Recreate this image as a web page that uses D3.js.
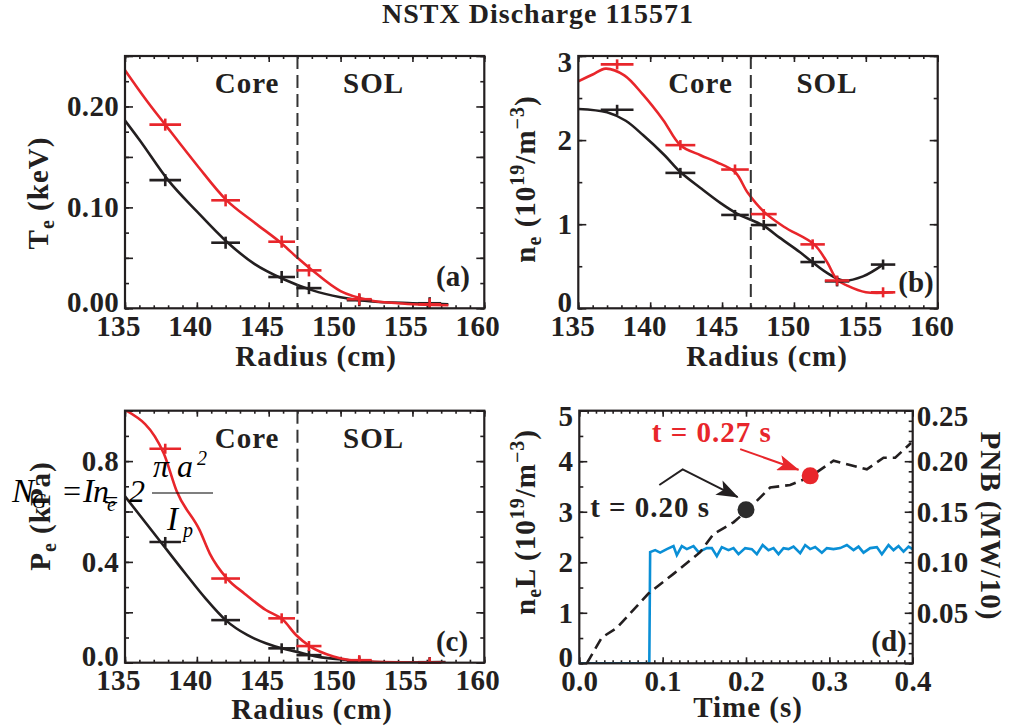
<!DOCTYPE html>
<html>
<head>
<meta charset="utf-8">
<script src="https://cdn.jsdelivr.net/npm/d3@7"></script>
<style>
  body { margin: 0; background: #fff; }
  svg text { font-family: "Liberation Serif", "Times New Roman", serif; font-weight: bold; fill: #231f20; }
  svg text.formula { font-weight: normal; font-style: italic; }
</style>
</head>
<body>
<div id="svganchor"></div>
<script>
// ---- panel (a): Te ----
let radiusPts = [137.8, 142.0, 145.9, 147.8, 151.3, 156.2];
let radiusErr = [1.1, 1.0, 0.93, 0.87, 0.87, 0.8];
let teRed = [0.182, 0.107, 0.066, 0.0376, 0.009, 0.004];
let teBlack = [0.127, 0.065, 0.031, 0.020, 0.008, 0.005];
let teRedFitR = [135, 136.5, 137.8, 140, 142, 144, 146, 147, 148, 150, 152, 154, 157.5];
let teRedFit = [0.236, 0.206, 0.182, 0.142, 0.108, 0.085, 0.063, 0.050, 0.038, 0.017, 0.008, 0.005, 0.003];
let teBlackFitR = [135, 136, 138, 140, 142, 144, 146, 148, 150, 152, 155, 157.5];
let teBlackFit = [0.186, 0.167, 0.127, 0.096, 0.067, 0.044, 0.029, 0.018, 0.011, 0.007, 0.005, 0.004];
let teYerr = 0.006;

// ---- panel (b): ne ----
let neRadius = [137.7, 142.1, 145.9, 147.9, 151.3, 153.0, 156.2];
let neRadiusErr = [1.14, 1.04, 0.96, 0.9, 0.85, 0.85, 0.85];
let neRed = [2.90, 1.94, 1.65, 1.12, 0.76, 0.33, 0.19];
let neBlack = [2.36, 1.61, 1.11, 0.99, 0.55, 0.32, 0.52];
let neRedLineR = [135, 136, 136.9, 138.2, 139.5, 140.9, 142.1, 143.5, 144.6, 145.9, 146.8, 147.9, 149.3, 151.4, 152.3, 153.0, 153.7, 155.0, 156.9];
let neRedLine = [2.70, 2.78, 2.85, 2.77, 2.54, 2.24, 1.94, 1.82, 1.74, 1.62, 1.37, 1.15, 0.97, 0.76, 0.55, 0.34, 0.27, 0.19, 0.19];
let neBlackLineR = [135, 137.0, 138.3, 139.5, 141, 142.1, 143.5, 144.9, 146.0, 147.9, 149, 150.4, 151.2, 152.3, 153.4, 154.8, 156.2];
let neBlackLine = [2.37, 2.33, 2.23, 2.06, 1.82, 1.62, 1.43, 1.25, 1.13, 0.98, 0.84, 0.67, 0.56, 0.42, 0.33, 0.38, 0.52];
let neYerr = 0.06;

// ---- panel (c): Pe ----
let peRed = [0.849, 0.334, 0.176, 0.066, 0.010, 0.001];
let peBlack = [0.479, 0.169, 0.057, 0.030, 0.005, 0.002];
let peRedFitR = [135.1, 137.7, 138.6, 140.2, 140.9, 142.1, 143.3, 144.8, 146.0, 146.9, 147.9, 149.5, 151.8, 157.3];
let peRedFit = [1.0, 0.83, 0.68, 0.525, 0.433, 0.334, 0.275, 0.209, 0.17, 0.11, 0.064, 0.025, 0.005, 0.0];
let peBlackFitR = [135, 137.2, 139.2, 140.6, 142.0, 143.5, 144.8, 145.9, 146.9, 148.3, 150.6, 154.1, 157.3];
let peBlackFit = [0.66, 0.50, 0.354, 0.255, 0.169, 0.11, 0.077, 0.057, 0.044, 0.025, 0.010, 0.001, 0.003];
let peYerr = 0.02;

// ---- panel (d): line density and beam power vs time ----
let nlTime = [0.009, 0.027, 0.045, 0.083, 0.113, 0.145, 0.161, 0.185, 0.201, 0.229, 0.253, 0.277, 0.305, 0.345, 0.365, 0.379, 0.398];
let nlValue = [0.0, 0.51, 0.70, 1.38, 1.77, 2.20, 2.56, 2.79, 3.02, 3.48, 3.53, 3.69, 4.01, 3.84, 4.07, 4.07, 4.36];
let pnbTime = [0, 0.084, 0.085, 0.091, 0.097, 0.105, 0.113, 0.117, 0.123, 0.129, 0.137, 0.143, 0.153, 0.159, 0.165, 0.171, 0.179, 0.185, 0.191, 0.199, 0.207, 0.213, 0.220, 0.227, 0.233, 0.239, 0.245, 0.251, 0.257, 0.265, 0.271, 0.277, 0.283, 0.291, 0.297, 0.305, 0.313, 0.321, 0.329, 0.335, 0.341, 0.349, 0.357, 0.363, 0.371, 0.377, 0.383, 0.389, 0.395, 0.400];
let pnbValue = [0, 0, 0.110, 0.112, 0.1095, 0.113, 0.116, 0.107, 0.116, 0.113, 0.116, 0.110, 0.114, 0.114, 0.106, 0.115, 0.112, 0.114, 0.108, 0.114, 0.113, 0.108, 0.117, 0.112, 0.114, 0.108, 0.114, 0.113, 0.1155, 0.109, 0.117, 0.113, 0.115, 0.1095, 0.114, 0.113, 0.114, 0.117, 0.112, 0.1155, 0.1095, 0.114, 0.115, 0.108, 0.117, 0.112, 0.116, 0.1105, 0.1155, 0.113];
let markTimes = [0.20, 0.277];
let markValues = [3.04, 3.71];
let markLabels = ["t = 0.20 s", "t = 0.27 s"];

let coreEdge = 147;

let RED = "#e8262b", BLACK = "#231f20", BLUE = "#0a8fd6";

let width = 1022, height = 728;
let svg = d3.select("#svganchor").append("svg").attr("width", width).attr("height", height);

let defs = svg.append("defs");
function arrowHead(id, color) {
  defs.append("marker")
    .attr("id", id)
    .attr("viewBox", "0 0 22 16")
    .attr("refX", 21).attr("refY", 8)
    .attr("markerWidth", 22).attr("markerHeight", 16)
    .attr("markerUnits", "userSpaceOnUse")
    .attr("orient", "auto")
    .append("path")
    .attr("d", "M0,0 L22,8 L0,16 L5,8 Z")
    .attr("fill", color);
}
arrowHead("arrBlack", BLACK);
arrowHead("arrRed", RED);

svg.append("text")
  .attr("x", 538).attr("y", 23)
  .attr("text-anchor", "middle")
  .style("font-size", "28px")
  .style("letter-spacing", "1px")
  .text("NSTX Discharge 115571");

// builds one framed panel with inward ticks on all four sides
function makePanel(o) {
  let g = svg.append("g");
  let x = d3.scaleLinear().domain(o.xDom).range([o.left, o.right]);
  let y = d3.scaleLinear().domain(o.yDom).range([o.bottom, o.top]);
  let yR = o.yRDom ? d3.scaleLinear().domain(o.yRDom).range([o.bottom, o.top]) : null;

  let clipId = "clip" + o.name;
  defs.append("clipPath").attr("id", clipId)
    .append("rect")
    .attr("x", o.left).attr("y", o.top)
    .attr("width", o.right - o.left).attr("height", o.bottom - o.top);

  function ticks(axis, transform, vals, len) {
    let a = g.append("g")
      .attr("transform", transform)
      .call(axis.tickValues(vals).tickSize(-len).tickFormat(""));
    a.select(".domain").remove();
    a.selectAll("line").attr("stroke", BLACK).attr("stroke-width", 1.6);
  }

  // x ticks bottom + top
  ticks(d3.axisBottom(x), "translate(0," + o.bottom + ")", o.xMinor, 3);
  ticks(d3.axisBottom(x), "translate(0," + o.bottom + ")", o.xMajor, 6);
  ticks(d3.axisTop(x), "translate(0," + o.top + ")", o.xMinor, 3);
  ticks(d3.axisTop(x), "translate(0," + o.top + ")", o.xMajor, 6);
  // y ticks left / right
  ticks(d3.axisLeft(y), "translate(" + o.left + ",0)", o.yMinor, 4);
  ticks(d3.axisLeft(y), "translate(" + o.left + ",0)", o.yMajor, 8);
  if (yR) {
    ticks(d3.axisRight(yR), "translate(" + o.right + ",0)", o.yRMinor, 4);
    ticks(d3.axisRight(yR), "translate(" + o.right + ",0)", o.yRMajor, 8);
  } else {
    ticks(d3.axisRight(y), "translate(" + o.right + ",0)", o.yMinor, 4);
    ticks(d3.axisRight(y), "translate(" + o.right + ",0)", o.yMajor, 8);
  }

  // tick labels (end labels nudged inward the way the original plot does)
  function nudge(sel, dom) {
    sel.selectAll(".tick text")
      .attr("y", function (d) {
        if (Math.abs(d - dom[0]) < 1e-9) return -6;
        if (Math.abs(d - dom[1]) < 1e-9) return 6;
        return 0;
      });
  }
  let xl = g.append("g")
    .attr("transform", "translate(0," + o.bottom + ")")
    .call(d3.axisBottom(x).tickValues(o.xLabels).tickSize(0).tickPadding(7).tickFormat(o.xFmt));
  xl.select(".domain").remove();
  xl.selectAll(".tick text").attr("x", o.xShift || 0);
  let yl = g.append("g")
    .attr("transform", "translate(" + o.left + ",0)")
    .call(d3.axisLeft(y).tickValues(o.yLabels).tickSize(0).tickPadding(6).tickFormat(o.yFmt));
  yl.select(".domain").remove();
  nudge(yl, o.yDom);
  if (yR) {
    let yrl = g.append("g")
      .attr("transform", "translate(" + o.right + ",0)")
      .call(d3.axisRight(yR).tickValues(o.yRLabels).tickSize(0).tickPadding(4).tickFormat(o.yRFmt));
    yrl.select(".domain").remove();
    nudge(yrl, o.yRDom);
  }
  g.selectAll(".tick text")
    .attr("fill", BLACK)
    .style("font-size", "29px")
    .style("letter-spacing", "0.3px");

  let plot = g.append("g").attr("clip-path", "url(#" + clipId + ")");

  return { g: g, plot: plot, x: x, y: y, yR: yR, o: o };
}

function frame(p) {
  p.g.append("rect")
    .attr("x", p.o.left).attr("y", p.o.top)
    .attr("width", p.o.right - p.o.left).attr("height", p.o.bottom - p.o.top)
    .attr("fill", "none").attr("stroke", BLACK).attr("stroke-width", 2.2);
}

function curve(p, xs, ys, color, yScale, dash, curveType) {
  let ys2 = yScale || p.y;
  let line = d3.line()
    .x(function (d) { return p.x(d[0]); })
    .y(function (d) { return ys2(d[1]); })
    .curve(curveType || d3.curveMonotoneX);
  p.plot.append("path")
    .datum(d3.zip(xs, ys))
    .attr("d", line)
    .attr("fill", "none")
    .attr("stroke", color)
    .attr("stroke-width", 2.6)
    .attr("stroke-dasharray", dash || null);
}

function errBars(p, xs, xerr, ys, yerr, color) {
  let pts = d3.zip(xs, xerr, ys);
  let g = p.g.append("g").attr("stroke", color).attr("stroke-width", 2.6);
  g.selectAll(".hbar").data(pts).enter().append("line")
    .attr("x1", function (d) { return p.x(d[0] - d[1]); })
    .attr("x2", function (d) { return p.x(d[0] + d[1]); })
    .attr("y1", function (d) { return p.y(d[2]); })
    .attr("y2", function (d) { return p.y(d[2]); });
  g.selectAll(".vbar").data(pts).enter().append("line")
    .attr("x1", function (d) { return p.x(d[0]); })
    .attr("x2", function (d) { return p.x(d[0]); })
    .attr("y1", function (d) { return p.y(Math.max(d[2] - yerr, p.o.yDom[0])); })
    .attr("y2", function (d) { return p.y(d[2] + yerr); });
}

function regions(p) {
  p.g.append("line")
    .attr("x1", p.x(coreEdge)).attr("x2", p.x(coreEdge))
    .attr("y1", p.o.top).attr("y2", p.o.bottom)
    .attr("stroke", "#333").attr("stroke-width", 2)
    .attr("stroke-dasharray", "13,6");
  p.g.append("text").attr("x", p.x(143.5)).attr("y", p.o.top + 37)
    .attr("text-anchor", "middle").style("font-size", "29px").style("letter-spacing", "1px").text("Core");
  p.g.append("text").attr("x", p.x(152.3)).attr("y", p.o.top + 37)
    .attr("text-anchor", "middle").style("font-size", "29px").style("letter-spacing", "1px").text("SOL");
}

function tag(p, label, cx, by) {
  p.g.append("text").attr("x", cx).attr("y", by)
    .attr("text-anchor", "middle").style("font-size", "29px").text(label);
}

// axis title helper, parts = [[text, kind]] with kind "", "sub" or "sup"
function axisTitle(x, y, rot, parts) {
  let t = svg.append("text")
    .attr("transform", "translate(" + x + "," + y + ") rotate(" + rot + ")")
    .attr("text-anchor", "middle")
    .style("font-size", "29px")
    .style("letter-spacing", "1px");
  let shift = 0;
  parts.forEach(function (pt) {
    let target = pt[1] === "sub" ? 6 : pt[1] === "sup" ? -11 : 0;
    t.append("tspan")
      .attr("dy", target - shift)
      .style("font-size", pt[1] ? "20px" : "29px")
      .text(pt[0]);
    shift = target;
  });
  return t;
}

let radiusOpts = {
  xDom: [135, 160],
  xMajor: d3.range(135, 161, 5),
  xMinor: d3.range(135, 161, 1),
  xLabels: d3.range(135, 161, 5),
  xFmt: d3.format("d"),
  xShift: -7
};

// ---- (a) ----
let pa = makePanel(Object.assign({}, radiusOpts, {
  name: "a", left: 125, right: 484.3, top: 56, bottom: 308.3,
  yDom: [0, 0.25],
  yMajor: d3.range(0, 0.251, 0.05), yMinor: d3.range(0, 0.251, 0.025),
  yLabels: [0, 0.1, 0.2], yFmt: d3.format(".2f")
}));
regions(pa);
curve(pa, teBlackFitR, teBlackFit, BLACK);
curve(pa, teRedFitR, teRedFit, RED);
errBars(pa, radiusPts, radiusErr, teBlack, teYerr, BLACK);
errBars(pa, radiusPts, radiusErr, teRed, teYerr, RED);
frame(pa);
tag(pa, "(a)", 453, 286);
axisTitle(316, 366, 0, [["Radius (cm)", ""]]);
axisTitle(48, 193, -90, [["T", ""], ["e", "sub"], [" (keV)", ""]]);

// ---- (b) ----
let pb = makePanel(Object.assign({}, radiusOpts, {
  name: "b", left: 578.3, right: 937.7, top: 56, bottom: 308.3,
  xShift: -6,
  yDom: [0, 3],
  yMajor: d3.range(0, 3.01, 1), yMinor: d3.range(0, 3.01, 0.5),
  yLabels: [0, 1, 2, 3], yFmt: d3.format("d")
}));
regions(pb);
curve(pb, neBlackLineR, neBlackLine, BLACK, null, null, d3.curveCatmullRom);
curve(pb, neRedLineR, neRedLine, RED, null, null, d3.curveCatmullRom);
errBars(pb, neRadius, neRadiusErr, neBlack, neYerr, BLACK);
errBars(pb, neRadius, neRadiusErr, neRed, neYerr, RED);
frame(pb);
tag(pb, "(b)", 916, 292);
axisTitle(767, 366, 0, [["Radius (cm)", ""]]);
axisTitle(535, 179, -90, [["n", ""], ["e", "sub"], [" (10", ""], ["19", "sup"], ["/m", ""], ["\u22123", "sup"], [")", ""]]);

// ---- (c) ----
let pc = makePanel(Object.assign({}, radiusOpts, {
  name: "c", left: 125, right: 484.3, top: 410.7, bottom: 662.7,
  yDom: [0, 1.0],
  yMajor: d3.range(0, 1.01, 0.2), yMinor: d3.range(0, 1.01, 0.1),
  yLabels: [0, 0.4, 0.8], yFmt: d3.format(".1f")
}));
regions(pc);
curve(pc, peBlackFitR, peBlackFit, BLACK);
curve(pc, peRedFitR, peRedFit, RED);
errBars(pc, radiusPts, radiusErr, peBlack, peYerr, BLACK);
errBars(pc, radiusPts, radiusErr, peRed, peYerr, RED);
frame(pc);
tag(pc, "(c)", 452, 651);
axisTitle(312, 719, 0, [["Radius (cm)", ""]]);
axisTitle(50, 516, -90, [["P", ""], ["e", "sub"], [" (kPa)", ""]]);

// ---- (d) ----
let pd = makePanel({
  name: "d", left: 579.3, right: 912.7, top: 410.7, bottom: 663.3,
  xDom: [0, 0.4],
  xMajor: d3.range(0, 0.401, 0.1), xMinor: d3.range(0, 0.401, 0.01),
  xLabels: d3.range(0, 0.401, 0.1), xFmt: d3.format(".1f"), xShift: 0,
  yDom: [0, 5],
  yMajor: d3.range(0, 5.01, 1), yMinor: d3.range(0, 5.01, 0.5),
  yLabels: d3.range(0, 5.01, 1), yFmt: d3.format("d"),
  yRDom: [0, 0.25],
  yRMajor: d3.range(0, 0.251, 0.05), yRMinor: d3.range(0, 0.251, 0.01),
  yRLabels: [0.05, 0.10, 0.15, 0.20, 0.25], yRFmt: d3.format(".2f")
});
curve(pd, pnbTime, pnbValue, BLUE, pd.yR, null, d3.curveLinear);
curve(pd, nlTime, nlValue, BLACK, null, "11,6", d3.curveLinear);

// annotation arrows (data coordinates)
let arrowBlack = [[0.096, 3.53], [0.124, 3.84], [0.190, 3.29]];
let arrowRed = [[0.193, 4.24], [0.263, 3.83]];
let arrowLine = d3.line()
  .x(function (d) { return pd.x(d[0]); })
  .y(function (d) { return pd.y(d[1]); });
pd.g.append("path").attr("d", arrowLine(arrowBlack))
  .attr("fill", "none").attr("stroke", BLACK).attr("stroke-width", 2)
  .attr("marker-end", "url(#arrBlack)");
pd.g.append("path").attr("d", arrowLine(arrowRed))
  .attr("fill", "none").attr("stroke", RED).attr("stroke-width", 2)
  .attr("marker-end", "url(#arrRed)");

pd.g.selectAll(".mark").data(d3.zip(markTimes, markValues)).enter().append("circle")
  .attr("cx", function (d) { return pd.x(d[0]); })
  .attr("cy", function (d) { return pd.y(d[1]); })
  .attr("r", 8.5)
  .attr("fill", function (d, i) { return i === 0 ? "#2b2b2b" : RED; });

pd.g.append("text").attr("x", pd.x(0.085)).attr("y", pd.y(2.9))
  .attr("text-anchor", "middle").style("font-size", "29px").style("letter-spacing", "1px")
  .text(markLabels[0]);
pd.g.append("text").attr("x", pd.x(0.159)).attr("y", pd.y(4.39))
  .attr("text-anchor", "middle").style("font-size", "29px").style("letter-spacing", "1px")
  .style("fill", RED)
  .text(markLabels[1]);

frame(pd);
tag(pd, "(d)", 889, 651);
axisTitle(748, 717, 0, [["Time (s)", ""]]);
axisTitle(535, 522, -90, [["n", ""], ["e", "sub"], ["L (10", ""], ["19", "sup"], ["/m", ""], ["\u22123", "sup"], [")", ""]]);
axisTitle(981, 526, 90, [["PNB (MW/10)", ""]]);

// stray equation overlay on panel (c)
let eq = svg.append("g");
function eqText(x, y, s, size) {
  eq.append("text").attr("class", "formula")
    .attr("x", x).attr("y", y)
    .style("font-size", size + "px")
    .style("fill", "#000")
    .text(s);
}
eqText(12, 502, "N", 33);
eqText(32, 508, "G", 20);
eqText(61, 502, "=", 32);
eqText(83, 502, "I", 33);
eqText(93, 502, "n", 32);
eqText(107, 511, "e", 20);
eqText(102, 509, "=", 26);
eqText(129, 502, "2", 32);
eqText(153, 477, "\u03c0", 32);
eqText(177, 477, "a", 32);
eqText(197, 465, "2", 20);
eq.append("line").attr("x1", 152).attr("x2", 213).attr("y1", 493).attr("y2", 493)
  .attr("stroke", "#000").attr("stroke-width", 1.2);
eqText(167, 530, "I", 33);
eqText(183, 537, "p", 20);
</script>
</body>
</html>
